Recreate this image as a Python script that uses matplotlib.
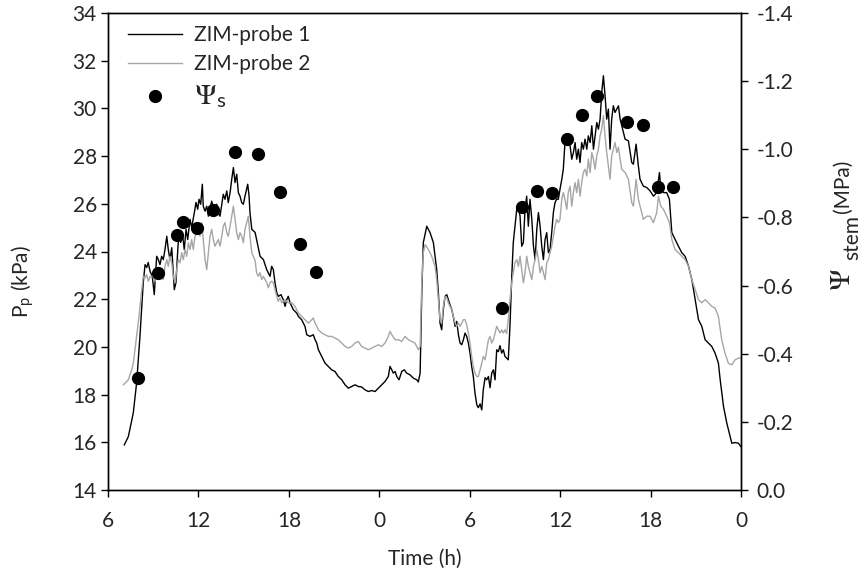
import matplotlib
matplotlib.use("Agg")
import matplotlib.pyplot as plt

plt.rcParams['font.family'] = ['Lato', 'DejaVu Sans']
plt.rcParams['axes.unicode_minus'] = False
plt.rcParams['mathtext.fontset'] = 'custom'
plt.rcParams['mathtext.rm'] = 'STIXGeneral'
plt.rcParams['mathtext.it'] = 'STIXGeneral:italic'
plt.rcParams['mathtext.sf'] = 'Lato'

# ---- data ----
# ZIM-probe 1 (time in h since midnight of day 1, Pp in kPa)
t1 = [7.08, 7.35, 7.68, 7.90, 8.12, 8.19, 8.34, 8.46, 8.57, 8.67, 8.79, 8.94, 9.07, 9.23, 9.34, 9.45,
      9.56, 9.67, 9.78, 9.90, 10.00, 10.11, 10.23, 10.40, 10.51, 10.63, 10.71, 10.82, 10.96, 11.06,
      11.18, 11.29, 11.44, 11.55, 11.71, 11.84, 11.95, 12.04, 12.15, 12.26, 12.32, 12.44, 12.55,
      12.66, 12.88, 12.99, 13.10, 13.21, 13.32, 13.43, 13.55, 13.65, 13.76, 13.88, 13.98, 14.10,
      14.21, 14.32, 14.43, 14.54, 14.65, 14.76, 14.87, 14.98, 15.09, 15.27, 15.36, 15.42, 15.54,
      15.76, 15.93, 16.09, 16.31, 16.53, 16.75, 16.86, 16.97, 17.08, 17.20, 17.30, 17.48, 17.63,
      17.75, 17.86, 17.96, 18.08, 18.19, 18.30, 18.52, 18.63, 18.85, 19.07, 19.19, 19.40, 19.62,
      19.74, 19.85, 19.96, 20.07, 20.18, 20.40, 20.62, 20.84, 21.06, 21.28, 21.51, 21.73, 21.95,
      22.17, 22.39, 22.61, 22.83, 23.05, 23.27, 23.50, 23.72, 23.94, 24.16, 24.38, 24.60, 24.71,
      24.83, 24.93, 25.05, 25.16, 25.31, 25.49, 25.66, 25.82, 26.04, 26.26, 26.49, 26.59, 26.71,
      26.82, 26.92, 27.15, 27.37, 27.59, 27.70, 27.81, 27.92, 28.03, 28.14, 28.25, 28.36, 28.48,
      28.58, 28.69, 28.81, 28.91, 29.03, 29.14, 29.25, 29.36, 29.47, 29.58, 29.69, 29.80, 29.91,
      30.02, 30.13, 30.24, 30.35, 30.47, 30.57, 30.69, 30.80, 30.90, 31.02, 31.13, 31.24, 31.35,
      31.46, 31.57, 31.68, 31.79, 31.90, 32.01, 32.12, 32.23, 32.34, 32.56, 32.67, 32.79, 32.89,
      33.12, 33.23, 33.34, 33.45, 33.56, 33.67, 33.78, 33.89, 34.00, 34.12, 34.23, 34.34, 34.45,
      34.56, 34.67, 34.78, 34.89, 35.00, 35.11, 35.22, 35.33, 35.44, 35.55, 35.66, 35.77, 35.88,
      35.99, 36.11, 36.21, 36.32, 36.44, 36.54, 36.66, 36.77, 36.88, 36.99, 37.10, 37.21, 37.32,
      37.43, 37.54, 37.65, 37.77, 37.87, 37.99, 38.10, 38.21, 38.32, 38.43, 38.54, 38.65, 38.76,
      38.87, 38.98, 39.09, 39.20, 39.31, 39.42, 39.53, 39.64, 39.87, 39.98, 40.09, 40.31, 40.53,
      40.75, 40.86, 41.04, 41.19, 41.30, 41.52, 41.75, 41.97, 42.19, 42.41, 42.59, 42.68, 42.85,
      43.07, 43.25, 43.41, 43.63, 43.85, 44.07, 44.29, 44.52, 44.74, 44.96, 45.18, 45.40, 45.62,
      45.84, 46.06, 46.28, 46.50, 46.62, 46.84, 47.06, 47.28, 47.39, 47.61, 47.83, 47.99]
p1 = [15.89, 16.24, 17.24, 18.50, 20.44, 21.14, 22.70, 23.45, 23.33, 23.54, 23.17, 22.96, 22.19, 23.80,
      23.66, 23.45, 23.80, 23.66, 24.08, 24.64, 24.08, 23.66, 24.16, 22.40, 22.70, 24.08, 24.80, 24.38,
      24.64, 24.08, 24.93, 24.50, 25.35, 25.01, 25.56, 26.06, 25.77, 26.19, 25.98, 26.82, 25.90, 25.69,
      25.90, 25.48, 26.11, 25.84, 25.90, 25.98, 25.63, 25.48, 25.98, 26.40, 26.19, 26.54, 26.05, 26.47,
      27.03, 27.52, 26.89, 27.24, 26.47, 26.32, 26.05, 25.98, 26.32, 26.82, 26.32, 25.63, 24.93,
      24.80, 24.29, 23.80, 23.66, 23.24, 22.96, 23.38, 23.24, 22.69, 22.27, 22.12, 22.19, 21.98,
      21.70, 21.98, 22.12, 21.85, 21.70, 21.56, 21.42, 21.28, 21.14, 20.86, 20.51, 20.44, 20.51,
      20.30, 20.16, 19.88, 19.74, 19.60, 19.32, 19.18, 19.04, 18.97, 18.76, 18.62, 18.41, 18.27,
      18.34, 18.41, 18.34, 18.32, 18.20, 18.13, 18.17, 18.13, 18.27, 18.41, 18.55, 18.76, 19.18,
      19.04, 18.90, 18.97, 18.76, 18.62, 18.97, 19.04, 18.90, 18.83, 18.69, 18.62, 18.53, 18.90,
      22.27, 24.37, 25.06, 24.79, 24.37, 23.80, 23.24, 22.27, 21.00, 20.72, 21.56, 22.12, 22.19,
      21.98, 21.77, 21.56, 21.28, 20.86, 21.07, 20.51, 20.16, 20.09, 20.30, 20.58, 20.44, 20.16,
      19.74, 19.18, 18.76, 18.06, 17.57, 17.45, 17.61, 17.36, 18.20, 18.71, 18.62, 18.76, 18.29,
      18.90, 19.04, 18.62, 19.88, 19.80, 20.05, 19.74, 19.88, 19.60, 19.46, 20.86, 22.96, 24.37,
      25.77, 25.90, 25.48, 24.22, 24.37, 25.77, 26.32, 25.06, 26.19, 25.35, 24.22, 23.66, 24.93,
      25.63, 25.06, 24.22, 23.66, 24.50, 24.79, 23.95, 24.08, 24.79, 25.63, 26.05, 26.19, 26.19,
      26.61, 27.03, 27.45, 28.57, 28.85, 28.57, 28.43, 27.87, 28.15, 28.57, 27.87, 28.29, 27.73,
      28.57, 28.29, 28.71, 28.29, 28.85, 28.57, 29.27, 28.29, 28.85, 29.41, 29.13, 29.55, 30.67,
      31.37, 30.53, 29.55, 29.97, 28.29, 29.55, 30.11, 29.83, 30.11, 29.55, 29.27, 28.71, 28.64,
      27.73, 27.66, 28.50, 27.59, 27.03, 26.74, 26.68, 26.54, 26.32, 26.47, 27.31, 26.61, 26.47,
      26.47, 26.19, 24.79, 24.50, 24.22, 23.95, 23.80, 23.38, 22.82, 21.98, 21.14, 20.86, 20.30,
      20.16, 20.02, 19.74, 19.32, 18.62, 17.50, 16.80, 16.24, 15.96, 15.99, 15.96, 15.82]

# ZIM-probe 2
t2 = [7.02, 7.35, 7.57, 7.68, 7.79, 7.90, 8.06, 8.19, 8.34, 8.46, 8.57, 8.67, 8.79, 8.90, 9.01, 9.12,
      9.23, 9.34, 9.45, 9.56, 9.67, 9.78, 9.90, 10.00, 10.11, 10.23, 10.33, 10.45, 10.56, 10.67,
      10.78, 10.89, 11.00, 11.11, 11.22, 11.33, 11.44, 11.55, 11.66, 11.77, 11.89, 11.99, 12.10,
      12.22, 12.32, 12.44, 12.55, 12.66, 12.77, 12.88, 12.99, 13.10, 13.21, 13.32, 13.43, 13.55,
      13.65, 13.76, 13.88, 13.98, 14.10, 14.21, 14.32, 14.43, 14.54, 14.65, 14.76, 14.87, 14.98,
      15.09, 15.20, 15.31, 15.42, 15.54, 15.76, 15.86, 15.97, 16.09, 16.20, 16.31, 16.42, 16.53,
      16.64, 16.75, 16.86, 16.97, 17.08, 17.20, 17.30, 17.41, 17.53, 17.75, 17.96, 18.19, 18.41,
      18.63, 18.85, 19.07, 19.29, 19.52, 19.62, 19.74, 19.96, 20.18, 20.40, 20.62, 20.84, 21.06,
      21.28, 21.51, 21.73, 21.95, 22.17, 22.39, 22.61, 22.83, 23.05, 23.27, 23.50, 23.72, 23.94,
      24.16, 24.38, 24.60, 24.71, 24.83, 25.05, 25.26, 25.49, 25.71, 25.93, 26.15, 26.37, 26.59,
      26.71, 26.82, 26.92, 27.04, 27.26, 27.48, 27.70, 27.81, 27.92, 28.03, 28.14, 28.25, 28.36,
      28.48, 28.58, 28.69, 28.81, 28.91, 29.03, 29.14, 29.25, 29.36, 29.47, 29.58, 29.69, 29.80,
      29.91, 30.02, 30.13, 30.24, 30.35, 30.47, 30.57, 30.69, 30.80, 30.90, 31.02, 31.13, 31.24,
      31.35, 31.46, 31.57, 31.68, 31.79, 31.90, 32.01, 32.12, 32.23, 32.34, 32.45, 32.56, 32.67,
      32.79, 32.89, 33.00, 33.12, 33.23, 33.34, 33.45, 33.56, 33.67, 33.78, 33.89, 34.00, 34.12,
      34.23, 34.34, 34.45, 34.56, 34.67, 34.78, 34.89, 35.00, 35.11, 35.22, 35.33, 35.44, 35.55,
      35.66, 35.77, 35.88, 35.99, 36.11, 36.21, 36.32, 36.44, 36.54, 36.66, 36.77, 36.88, 36.99,
      37.10, 37.21, 37.32, 37.43, 37.54, 37.65, 37.77, 37.87, 37.99, 38.10, 38.21, 38.32, 38.43,
      38.54, 38.65, 38.76, 38.87, 38.98, 39.09, 39.20, 39.31, 39.42, 39.53, 39.64, 39.76, 39.87,
      39.98, 40.09, 40.31, 40.53, 40.75, 40.86, 41.04, 41.19, 41.41, 41.52, 41.75, 41.97, 42.19,
      42.41, 42.52, 42.68, 42.85, 43.07, 43.25, 43.41, 43.63, 43.85, 44.07, 44.29, 44.52, 44.74,
      44.96, 45.18, 45.40, 45.62, 45.84, 46.06, 46.28, 46.50, 46.72, 46.94, 47.16, 47.39, 47.61,
      47.83, 47.99]
p2 = [18.41, 18.62, 19.04, 19.32, 19.88, 20.44, 21.28, 22.12, 22.96, 22.90, 23.03, 22.75, 22.96, 22.90,
      23.11, 22.75, 23.24, 23.11, 23.32, 22.96, 22.82, 23.38, 23.66, 23.38, 23.80, 23.53, 22.96, 22.69,
      23.24, 23.66, 23.53, 23.95, 23.66, 24.08, 23.80, 24.37, 24.08, 24.50, 24.08, 24.64, 24.79, 24.93,
      24.64, 25.21, 24.50, 23.66, 23.24, 23.95, 24.64, 24.93, 24.50, 24.22, 24.37, 24.50, 24.22, 24.64,
      25.06, 25.21, 24.79, 24.64, 25.06, 25.48, 25.90, 25.35, 24.79, 24.50, 24.79, 24.64, 24.37, 24.93,
      25.21, 25.48, 24.64, 23.95, 23.62, 23.11, 22.96, 23.11, 22.82, 22.96, 22.82, 22.69, 22.48, 22.69,
      22.75, 22.69, 22.40, 22.12, 21.91, 22.06, 21.85, 21.98, 21.85, 21.85, 21.70, 21.42, 21.28, 21.14,
      21.00, 21.14, 21.21, 21.00, 20.72, 20.58, 20.51, 20.44, 20.44, 20.37, 20.30, 20.16, 20.02, 19.95,
      20.02, 20.16, 20.23, 20.02, 19.95, 19.88, 19.95, 20.02, 20.09, 20.02, 20.16, 20.44, 20.65, 20.51,
      20.30, 20.30, 20.23, 20.44, 20.30, 20.23, 20.16, 19.88, 20.02, 22.69, 23.95, 24.29, 24.08, 23.80,
      23.38, 22.82, 21.98, 21.14, 21.00, 21.70, 22.12, 22.06, 21.85, 21.70, 21.56, 21.28, 21.00, 20.86,
      21.00, 20.86, 21.00, 21.14, 21.14, 20.93, 20.58, 20.16, 19.60, 19.18, 18.90, 18.76, 18.76, 19.04,
      19.32, 19.60, 19.46, 19.88, 20.30, 20.44, 20.16, 20.30, 20.58, 20.86, 20.72, 20.58, 20.72, 20.58,
      20.72, 20.56, 21.14, 21.98, 22.70, 23.11, 23.53, 23.66, 23.38, 23.80, 23.24, 22.69, 23.11, 23.80,
      23.38, 23.11, 22.82, 23.38, 23.66, 24.08, 23.66, 23.11, 23.38, 23.11, 22.82, 23.53, 23.66, 23.95,
      24.22, 24.64, 25.06, 25.35, 25.21, 25.35, 26.19, 26.47, 26.19, 25.77, 26.47, 26.74, 25.90, 26.47,
      26.89, 26.47, 27.03, 26.32, 26.89, 27.31, 27.45, 27.17, 27.87, 27.31, 28.15, 27.87, 27.45, 28.01,
      28.29, 28.85, 29.13, 29.69, 28.85, 28.15, 27.59, 27.03, 28.01, 28.29, 28.57, 28.15, 28.37, 27.87,
      27.45, 27.31, 27.03, 26.05, 25.90, 27.03, 26.19, 25.63, 25.35, 25.48, 25.48, 25.21, 25.63, 26.32,
      25.90, 25.77, 25.48, 25.21, 24.50, 24.08, 23.95, 23.80, 23.66, 23.38, 22.82, 22.40, 21.98, 21.85,
      21.98, 21.85, 21.70, 21.63, 21.28, 20.30, 19.74, 19.32, 19.25, 19.46, 19.53, 19.53]

# Stem water potential (MPa)
ts = [8.01, 9.34, 10.60, 10.96, 11.93, 12.95, 14.43, 15.95, 17.43, 18.76, 19.78,
      32.12, 33.45, 34.45, 35.46, 36.46, 37.45, 38.45, 40.46, 41.48, 42.48, 43.47]
psi = [-0.330, -0.637, -0.747, -0.787, -0.769, -0.823, -0.992, -0.985, -0.874, -0.722, -0.641,
       -0.535, -0.831, -0.877, -0.871, -1.029, -1.101, -1.157, -1.081, -1.071, -0.889, -0.889]

xtick_pos = [6, 12, 18, 24, 30, 36, 42, 48]
xtick_lab = ['6', '12', '18', '0', '6', '12', '18', '0']
ytick_left = [14, 16, 18, 20, 22, 24, 26, 28, 30, 32, 34]
ytick_right = [0.0, -0.2, -0.4, -0.6, -0.8, -1.0, -1.2, -1.4]

# ---- figure ----
W, H = 866, 578
fig = plt.figure(figsize=(W / 100, H / 100), dpi=100)
ax = fig.add_axes([108 / W, 1 - 490 / H, (741 - 108) / W, (490 - 13) / H])
ax2 = ax.twinx()

txt = '#262626'
fs = 15

l1, = ax.plot(t1, p1, color='black', lw=1.0, label='ZIM-probe 1')
l2, = ax.plot(t2, p2, color='#a6a6a6', lw=1.0, label='ZIM-probe 2')
sc, = ax2.plot(ts, psi, 'o', color='black', ms=8.5, label=r'$\Psi_{\mathsf{s}}$', zorder=5)

ax.set_xlim(6, 48)
ax.set_ylim(14, 34)
ax.set_xticks(xtick_pos)
ax.set_xticklabels(xtick_lab)
ax.set_yticks(ytick_left)
ax2.set_ylim(0, -1.4)
ax2.set_yticks(ytick_right)
ax2.set_yticklabels(['%.1f' % v for v in ytick_right])

for a in (ax, ax2):
    a.tick_params(direction='out', length=5, width=1, labelsize=fs, colors='black',
                  labelcolor=txt)
    for s in a.spines.values():
        s.set_linewidth(1.0)
        s.set_color('black')
ax.tick_params(axis='x', pad=10)
ax.tick_params(axis='y', pad=3)
ax2.tick_params(axis='y', pad=6)

ax.set_xlabel('Time (h)', fontsize=fs, color=txt, labelpad=13)

# y-axis titles (rotated, anchored at their start like the original)
rot = dict(rotation=90, rotation_mode='anchor', ha='left', va='baseline', color=txt)
fig.text(28 / W, 1 - 318 / H, r'P$_{\mathsf{p}}$ (kPa)', fontsize=fs, **rot)
fig.text(850 / W, 1 - 291 / H, r'$\Psi$', fontsize=21, **rot)
fig.text(858 / W, 1 - 260 / H, 'stem', fontsize=fs, **rot)
fig.text(849 / W, 1 - 213 / H, '(MPa)', fontsize=fs, **rot)

leg = ax.legend(handles=[l1, l2, sc], loc='upper left', frameon=False, fontsize=fs,
                handlelength=2.6, handletextpad=0.55, labelspacing=0.42,
                borderaxespad=0.0, bbox_to_anchor=(0.0185, 0.992))
for t in leg.get_texts():
    t.set_color(txt)
leg.get_texts()[2].set_fontsize(21)

fig.savefig('out.png', dpi=100)
